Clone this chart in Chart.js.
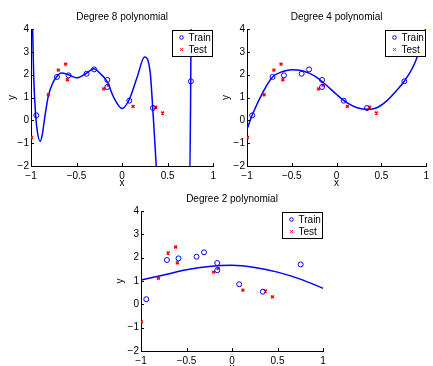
<!DOCTYPE html>
<html>
<head>
<meta charset="utf-8">
<script src="https://cdn.jsdelivr.net/npm/chart.js@4.4.1/dist/chart.umd.min.js"></script>
<style>
  body { margin: 0; background: #fff; width: 433px; height: 366px; position: relative; overflow: hidden; }
  canvas { position: absolute; }
</style>
</head>
<body>
<canvas id="deg8" width="220" height="190" style="left:0;top:0"></canvas>
<canvas id="deg4" width="219" height="190" style="left:214px;top:0"></canvas>
<canvas id="deg2" width="225" height="190" style="left:108px;top:185px"></canvas>
<script>
// shared samples
const trainX = [-0.942, -0.715, -0.588, -0.39, -0.307, -0.162, -0.162, 0.079, 0.339, 0.755]
const trainY = [0.22, 1.90, 1.97, 2.04, 2.23, 1.77, 1.46, 0.86, 0.54, 1.71]
const testX = [-0.996, -0.809, -0.70, -0.62, -0.60, -0.202, -0.152, 0.12, 0.368, 0.444]
const testY = [-0.75, 1.12, 2.20, 2.46, 1.78, 1.38, 1.54, 0.61, 0.57, 0.32]

// fitted curves
const deg8X = [-1, -0.982, -0.971, -0.949, -0.93, -0.9, -0.875, -0.85, -0.81, -0.76, -0.72, -0.67, -0.59, -0.5, -0.4, -0.31, -0.24, -0.166, -0.09, 0, 0.073, 0.163, 0.246, 0.307, 0.336, 0.373, 0.39, 0.74, 0.752, 0.76]
const deg8Y = [6, 4, 2, 0.23, -0.5, -0.92, -0.6, 0.1, 1.06, 1.65, 1.9, 2.07, 2.0, 1.86, 2.04, 2.26, 2.05, 1.71, 0.99, 0.52, 0.87, 1.86, 2.77, 2.14, 0.55, -1.9, -3, -3, 1, 6]
const deg4X = [-1, -0.942, -0.816, -0.715, -0.6, -0.5, -0.383, -0.238, -0.13, 0, 0.123, 0.23, 0.34, 0.448, 0.556, 0.664, 0.755, 0.88, 0.99, 1.0]
const deg4Y = [-0.39, 0.23, 1.28, 1.9, 2.14, 2.22, 2.17, 1.93, 1.59, 1.13, 0.75, 0.55, 0.48, 0.55, 0.84, 1.28, 1.71, 2.58, 3.96, 4.15]
const deg2X = [-1, -0.75, -0.5, -0.25, 0, 0.25, 0.5, 0.75, 1]
const deg2Y = [1.04, 1.26, 1.48, 1.62, 1.67, 1.58, 1.38, 1.08, 0.69]

const xTicks = [-1, -0.5, 0, 0.5, 1]
const yTicks = [-2, -1, 0, 1, 2, 3, 4]

const FONT = "'Liberation Sans', Arial, Helvetica, sans-serif"
const toPts = (xs, ys) => xs.map((x, i) => ({ x: x, y: ys[i] }))
const fmt = v => String(v).replace('-', '\u2212')

// matlab style ticks pointing into the axes
const inwardTicks = {
  id: 'inwardTicks',
  afterDraw(chart) {
    const { ctx, chartArea: a, scales: { x, y } } = chart
    ctx.save()
    ctx.strokeStyle = '#000'
    ctx.lineWidth = 1
    ctx.beginPath()
    x.ticks.forEach(t => {
      const px = Math.round(x.getPixelForValue(t.value)) + 0.5
      ctx.moveTo(px, a.bottom)
      ctx.lineTo(px, a.bottom - 3)
    })
    y.ticks.forEach(t => {
      const py = Math.round(y.getPixelForValue(t.value)) + 0.5
      ctx.moveTo(a.left, py)
      ctx.lineTo(a.left + 3, py)
    })
    ctx.stroke()
    ctx.restore()
  }
}

// legend box sitting inside the top right corner
const boxLegend = {
  id: 'boxLegend',
  afterDraw(chart) {
    const { ctx, chartArea: a } = chart
    const items = chart.data.datasets.filter(d => d.label)
    const w = 40, h = 26
    const x0 = Math.round(a.right - w - 1) + 0.5
    const y0 = Math.round(a.top + 1) + 0.5
    ctx.save()
    ctx.fillStyle = '#fff'
    ctx.fillRect(x0, y0, w, h)
    ctx.strokeStyle = '#000'
    ctx.lineWidth = 1
    ctx.strokeRect(x0, y0, w, h)
    ctx.font = '10px ' + FONT
    ctx.textBaseline = 'middle'
    items.forEach((d, i) => {
      const cy = y0 + 7 + i * 12
      const cx = x0 + 9
      ctx.strokeStyle = d.borderColor
      ctx.lineWidth = 1
      ctx.beginPath()
      if (d.pointStyle === 'circle') {
        ctx.arc(cx, cy, 1.8, 0, Math.PI * 2)
      } else {
        ctx.moveTo(cx - 1.3, cy - 1.3); ctx.lineTo(cx + 1.3, cy + 1.3)
        ctx.moveTo(cx - 1.3, cy + 1.3); ctx.lineTo(cx + 1.3, cy - 1.3)
      }
      ctx.stroke()
      ctx.fillStyle = '#000'
      ctx.fillText(d.label, x0 + 16, cy + 0.5)
    })
    ctx.restore()
  }
}

function makePlot(id, title, curveX, curveY, yAxisWidth, padRight, titleTop) {
  return new Chart(document.getElementById(id), {
    type: 'scatter',
    data: {
      datasets: [
        {
          label: 'Train',
          data: toPts(trainX, trainY),
          pointStyle: 'circle',
          pointRadius: 2.5,
          borderColor: '#0000ff',
          backgroundColor: 'rgba(0,0,0,0)',
          borderWidth: 1
        },
        {
          label: 'Test',
          data: toPts(testX, testY),
          pointStyle: 'crossRot',
          pointRadius: 2,
          borderColor: '#ff0000',
          borderWidth: 1.5
        },
        {
          data: toPts(curveX, curveY),
          showLine: true,
          pointRadius: 0,
          borderColor: '#0000ff',
          borderWidth: 1.5,
          cubicInterpolationMode: 'monotone'
        }
      ]
    },
    options: {
      responsive: false,
      animation: false,
      devicePixelRatio: 1,
      layout: { padding: { left: 0, right: padRight, top: 0, bottom: 0 } },
      plugins: {
        legend: { display: false },
        tooltip: { enabled: false },
        title: {
          display: true,
          text: title,
          fullSize: false,
          color: '#000',
          font: { family: FONT, size: 10, weight: 'normal' },
          padding: { top: titleTop, bottom: 6 }
        }
      },
      scales: {
        x: {
          type: 'linear',
          min: -1,
          max: 1,
          afterBuildTicks: s => { s.ticks = xTicks.map(v => ({ value: v })) },
          afterFit: s => { s.height = 24 },
          grid: { display: false, drawTicks: false, tickLength: 0 },
          border: { display: true, color: '#000', width: 1 },
          ticks: { color: '#000', padding: 4, maxRotation: 0, font: { family: FONT, size: 10 }, callback: fmt },
          title: { display: true, text: 'x', color: '#000', font: { family: FONT, size: 10 }, padding: { top: 0, bottom: 1 } }
        },
        y: {
          type: 'linear',
          min: -2,
          max: 4,
          afterBuildTicks: s => { s.ticks = yTicks.map(v => ({ value: v })) },
          afterFit: s => { s.width = yAxisWidth },
          grid: { display: false, drawTicks: false, tickLength: 0 },
          border: { display: true, color: '#000', width: 1 },
          ticks: { color: '#000', padding: 2, font: { family: FONT, size: 10 }, callback: fmt },
          title: { display: true, text: 'y', color: '#000', font: { family: FONT, size: 10 }, padding: { top: 6, bottom: 0 } }
        }
      }
    },
    plugins: [inwardTicks, boxLegend]
  })
}

makePlot('deg8', 'Degree 8 polynomial', deg8X, deg8Y, 31, 5, 11)
makePlot('deg4', 'Degree 4 polynomial', deg4X, deg4Y, 33, 2, 11)
makePlot('deg2', 'Degree 2 polynomial', deg2X, deg2Y, 33, 10, 8)
</script>
</body>
</html>
